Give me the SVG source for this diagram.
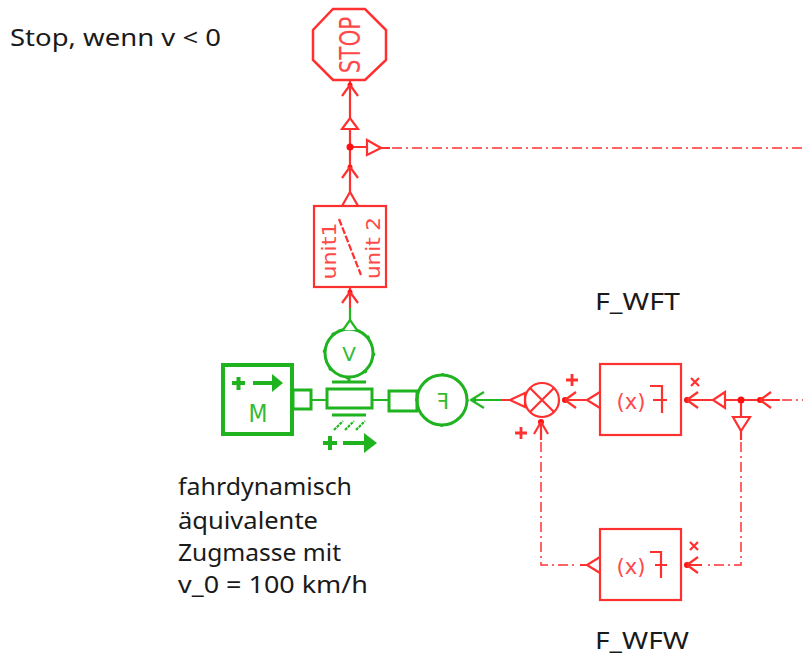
<svg xmlns="http://www.w3.org/2000/svg" width="803" height="657" viewBox="0 0 803 657">
<style>
.r{fill:none;stroke:#ff3030;stroke-width:2.2}
.w{fill:#fff;stroke:#ff3030;stroke-width:2.2}
.rf{fill:#ff1010;stroke:none}
.g{fill:none;stroke:#1fb31f;stroke-width:3}
.gt{fill:none;stroke:#22b822;stroke-width:2.2}
.gf{fill:#1fb31f;stroke:none}
.dd{fill:none;stroke:#ff3030;stroke-width:1.5;stroke-dasharray:10 4 2 4}
.l{font-family:"Noto Sans","Open Sans",sans-serif;font-size:24px;fill:#1a1a1a}
.rt{font-family:"DejaVu Sans",sans-serif;fill:#ff4848}
.gl{font-family:"DejaVu Sans",sans-serif;fill:#33bb33}
</style>
<g id="connectors">
<path class="r" d="M350 80V192M350 147H367M350 287V308M381 148H390"/>
<path class="dd" d="M392 148H803"/>
<path class="gt" d="M471 400H502M311 400H326M373 400H388M350 308V320"/>
<path class="r" d="M502 400H510M566 400H587M687 400H713M725 400H780M741 400V417M741 430V440M541 421V440M587 565H580M687 565H702"/>
<path class="dd" d="M782 400H803M741 442V565H704M541 442V565H578"/>
<circle cx="350" cy="147" r="3.500" class="rf"/><circle cx="350" cy="85" r="2.500" class="rf"/><circle cx="350" cy="167" r="2.500" class="rf"/><circle cx="350" cy="292" r="2.500" class="rf"/><circle cx="741" cy="400" r="3.500" class="rf"/>
<path class="r" d="M350 85L342 96M350 85L358 96M350 167L342 178M350 167L358 178M350 292L342 303M350 292L358 303"/>
<path class="w" d="M342 129H358L350 118Z"/>
<path class="w" d="M342 206L350 192L358 206Z"/>
<path class="w" d="M367 140L381 148L367 155Z"/>
</g>
<g id="stop">
<path class="r" style="stroke-width:2.500" d="M333 9H365L386 30V60L365 80H333L313 60V30Z"/>
<text class="rt" transform="translate(360 45) rotate(-90) scale(.74 1)" text-anchor="middle" font-size="29">STOP</text>
</g>
<g id="unit">
<rect class="r" x="314" y="206" width="72" height="81"/>
<text class="rt" transform="translate(336 251) rotate(-90)" text-anchor="middle" font-size="19" textLength="57" lengthAdjust="spacingAndGlyphs">unit1</text>
<text class="rt" transform="translate(380 248) rotate(-90)" text-anchor="middle" font-size="19" textLength="62" lengthAdjust="spacingAndGlyphs">unit 2</text>
<path class="r" stroke-dasharray="7 2" d="M339 219L361 275"/>
</g>
<g id="mass">
<rect class="g" style="stroke-width:4" x="223" y="365" width="69" height="69"/>
<rect class="g" x="293" y="390" width="18" height="19"/>
<path class="g" style="stroke-width:4" d="M232 383H245M238.500 377V390M253 383H274"/>
<path class="gf" d="M272 374L283 383L272 392Z"/>
<text class="gl" x="258" y="422" text-anchor="middle" font-size="24" textLength="19" lengthAdjust="spacingAndGlyphs">M</text>
</g>
<g id="velocity">
<circle class="g" cx="349" cy="353" r="24"/>
<circle cx="349" cy="353" r="25" fill="none" stroke="#1fb31f" stroke-width="2.500" stroke-dasharray="3 16.635"/>
<text class="gl" x="349" y="361" text-anchor="middle" font-size="20">V</text>
<path class="w" style="stroke:#22b822" d="M343 330L350 320L357 330"/>
</g>
<g id="joint">
<rect class="g" x="327" y="389" width="45" height="19"/>
<path class="g" d="M332 382H366M349 377V382M332 415H366"/>
<path class="gt" stroke-dasharray="3 1" d="M334 430L343 421M345 430L354 421M356 430L365 421"/>
<path class="g" style="stroke-width:4" d="M323 443H337M330 436V450M343 443H367"/>
<path class="gf" d="M364 433L377 443L364 453Z"/>
</g>
<g id="force">
<rect class="g" x="389" y="391" width="28" height="20"/>
<circle class="g" cx="442" cy="400" r="25"/>
<circle cx="442" cy="400" r="25.500" fill="none" stroke="#1fb31f" stroke-width="2.500" stroke-dasharray="3 37.055" stroke-dashoffset="1.500"/>
<text class="gl" transform="translate(443 409) scale(-1 1)" text-anchor="middle" font-size="22">F</text>
<path class="gf" d="M469 400l7-3.500v7z"/>
<path class="gt" d="M471 400L484 392M471 400L484 408"/>
</g>
<g id="sum">
<circle class="r" cx="542" cy="400" r="17"/>
<path class="r" d="M530 388L554 412M554 388L530 412"/>
<path class="r" d="M525 393L510 400L525 407Z"/>
<circle cx="565" cy="400" r="3" class="rf"/><path class="r" d="M565 400L576 392M565 400L576 408"/>
<circle cx="541" cy="422" r="3" class="rf"/><path class="r" d="M541 422L534 434M541 422L548 434"/>
<path class="r" style="stroke-width:2.800" d="M566 380H578M572 374V386M515 433H527M521 427V439"/>
</g>
<g id="fwft">
<rect class="r" x="600" y="364" width="81" height="71"/>
<path class="r" d="M600 392L587 400L600 408"/>
<text class="rt" x="631" y="409" text-anchor="middle" font-size="22" textLength="29" lengthAdjust="spacingAndGlyphs">(x)</text>
<path class="r" d="M650 386H662V413M653 400H667"/>
<circle cx="687" cy="400" r="3" class="rf"/><path class="r" d="M687 400L698 392M687 400L698 408"/>
<path class="r" d="M691 378L699 386M699 378L691 386"/>
<path class="r" d="M725 392L713 400L725 408Z"/>
<circle cx="760" cy="400" r="3" class="rf"/><path class="r" d="M760 400L771 392M760 400L771 408"/>
<path class="w" d="M733 417H750L741 431Z"/>
</g>
<g id="fwfw">
<rect class="r" x="600" y="529" width="81" height="71"/>
<path class="r" d="M600 557L587 565L600 573"/>
<text class="rt" x="631" y="574" text-anchor="middle" font-size="22" textLength="29" lengthAdjust="spacingAndGlyphs">(x)</text>
<path class="r" d="M650 552H661V578M655 565H667"/>
<circle cx="687" cy="565" r="3" class="rf"/><path class="r" d="M687 565L698 557M687 565L698 573"/>
<path class="r" d="M690 542L698 550M698 542L690 550"/>
</g>
<g id="labels">
<text class="l" x="10" y="46" textLength="211" lengthAdjust="spacingAndGlyphs">Stop, wenn v &lt; 0</text>
<text class="l" x="595" y="310" textLength="85" lengthAdjust="spacingAndGlyphs">F_WFT</text>
<text class="l" x="178" y="495" textLength="174" lengthAdjust="spacingAndGlyphs">fahrdynamisch</text>
<text class="l" x="178" y="529" textLength="140" lengthAdjust="spacingAndGlyphs">äquivalente</text>
<text class="l" x="178" y="561" textLength="163" lengthAdjust="spacingAndGlyphs">Zugmasse mit</text>
<text class="l" x="178" y="593" textLength="190" lengthAdjust="spacingAndGlyphs">v_0 = 100 km/h</text>
<text class="l" x="595" y="649" textLength="94" lengthAdjust="spacingAndGlyphs">F_WFW</text>
</g>
</svg>
